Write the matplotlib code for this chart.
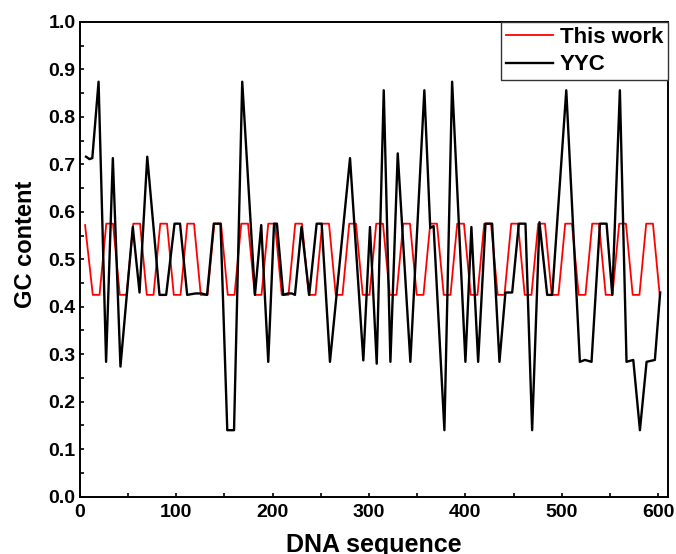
import matplotlib
matplotlib.use("Agg")
import matplotlib.pyplot as plt
from matplotlib.ticker import MultipleLocator, FormatStrFormatter

plt.rcParams["font.family"] = ["Liberation Sans", "DejaVu Sans"]
plt.rcParams["font.weight"] = "bold"

# ── "This work": sliding-window GC content (vertices) ──
work_x = [5.5, 13.5,
          20.5, 27.5, 34.5, 41.5, 48.5, 55.5, 62.5, 69.5,
          76.5, 83.5, 90.5, 97.5, 104.5, 111.5, 118.5, 125.5,
          132.5, 139.5, 146.5, 153.5, 160.5, 167.5, 174.5, 181.5,
          188.5, 195.5, 202.5, 209.5, 216.5, 223.5, 230.5, 237.5,
          244.5, 251.5, 258.5, 265.5, 272.5, 279.5, 286.5, 293.5,
          300.5, 307.5, 314.5, 321.5, 328.5, 335.5, 342.5, 349.5,
          356.5, 363.5, 370.5, 377.5, 384.5, 391.5, 398.5, 405.5,
          412.5, 419.5, 426.5, 433.5, 440.5, 447.5, 454.5, 461.5,
          468.5, 475.5, 482.5, 489.5, 496.5, 503.5, 510.5, 517.5,
          524.5, 531.5, 538.5, 545.5, 552.5, 559.5, 566.5, 573.5,
          580.5, 587.5, 594.5, 601.5]
work_y = [0.572, 0.425,
          0.425, 0.575, 0.575, 0.425, 0.425, 0.575, 0.575, 0.425,
          0.425, 0.575, 0.575, 0.425, 0.425, 0.575, 0.575, 0.425,
          0.425, 0.575, 0.575, 0.425, 0.425, 0.575, 0.575, 0.425,
          0.425, 0.575, 0.575, 0.425, 0.425, 0.575, 0.575, 0.425,
          0.425, 0.575, 0.575, 0.425, 0.425, 0.575, 0.575, 0.425,
          0.425, 0.575, 0.575, 0.425, 0.425, 0.575, 0.575, 0.425,
          0.425, 0.575, 0.575, 0.425, 0.425, 0.575, 0.575, 0.425,
          0.425, 0.575, 0.575, 0.425, 0.425, 0.575, 0.575, 0.425,
          0.425, 0.575, 0.575, 0.425, 0.425, 0.575, 0.575, 0.425,
          0.425, 0.575, 0.575, 0.425, 0.425, 0.575, 0.575, 0.425,
          0.425, 0.575, 0.575, 0.425]

# ── YYC ──
yyc_x = [6.5, 10, 13, 19.5, 27.3, 34.3, 42.2, 55, 62, 70,
         82.7, 89.6, 98.3, 104, 111.4, 120, 126, 132, 139, 146,
         153, 160, 168.5, 181.7, 188.2, 195.5, 201.5, 204.5, 211, 216,
         220, 223.2, 230, 238, 245.7, 250.9, 259.5, 280.3, 294.1, 301,
         308, 315.3, 322.2, 329.8, 342.9, 357.4, 363.5, 367, 378.2, 386.2,
         400, 406.2, 413.2, 420.8, 427.7, 435.3, 441.5, 448.5, 455.4, 462.3,
         469.2, 476.8, 484.8, 490, 504.6, 518.7, 524, 530.8, 539.5, 546.4,
         552.3, 560.2, 567.1, 574.1, 581, 587.9, 596.5, 602]
yyc_y = [0.716, 0.711, 0.713, 0.874, 0.284, 0.713, 0.274, 0.568, 0.430, 0.716,
         0.425, 0.425, 0.575, 0.575, 0.425, 0.428, 0.428, 0.425, 0.575, 0.575,
         0.140, 0.140, 0.874, 0.425, 0.572, 0.284, 0.575, 0.575, 0.425, 0.428,
         0.428, 0.425, 0.568, 0.425, 0.575, 0.575, 0.284, 0.713, 0.287, 0.568,
         0.280, 0.856, 0.284, 0.723, 0.284, 0.856, 0.566, 0.570, 0.140, 0.874,
         0.284, 0.568, 0.284, 0.575, 0.575, 0.284, 0.430, 0.430, 0.575, 0.575,
         0.140, 0.578, 0.425, 0.425, 0.856, 0.284, 0.288, 0.284, 0.575, 0.575,
         0.425, 0.856, 0.284, 0.288, 0.140, 0.284, 0.288, 0.430]

fig = plt.figure(figsize=(6.76, 5.54), dpi=100)
ax = fig.add_axes([0.118, 0.1035, 0.870, 0.857])

ax.plot(work_x, work_y, color="#ff0000", lw=1.3, label="This work")
ax.plot(yyc_x, yyc_y, color="black", lw=1.7, label="YYC")

ax.set_xlim(0, 610)
ax.set_ylim(0, 1.0)
ax.xaxis.set_major_locator(MultipleLocator(100))
ax.xaxis.set_minor_locator(MultipleLocator(50))
ax.yaxis.set_major_locator(MultipleLocator(0.1))
ax.yaxis.set_minor_locator(MultipleLocator(0.05))
ax.yaxis.set_major_formatter(FormatStrFormatter("%.1f"))
ax.tick_params(which="both", direction="in", length=3, width=1.2,
               labelsize=14, top=False, right=False)
ax.tick_params(axis="x", pad=5)
ax.tick_params(axis="y", pad=3)
for s in ax.spines.values():
    s.set_linewidth(1.4)

ax.set_xlabel("DNA sequence", fontsize=18, fontweight="bold", labelpad=9)
ax.set_ylabel("GC content", fontsize=17, fontweight="bold")
ax.yaxis.set_label_coords(-0.072, 0.532)

leg = ax.legend(loc="upper right", fontsize=16, frameon=True, fancybox=False,
                framealpha=1, edgecolor="#333333", borderaxespad=0,
                borderpad=0.22, handlelength=2.1, handletextpad=0.3,
                labelspacing=0.3)
leg.get_frame().set_linewidth(1.0)
for t in leg.get_texts():
    t.set_fontweight("bold")

fig.savefig("out.png", dpi=100)
